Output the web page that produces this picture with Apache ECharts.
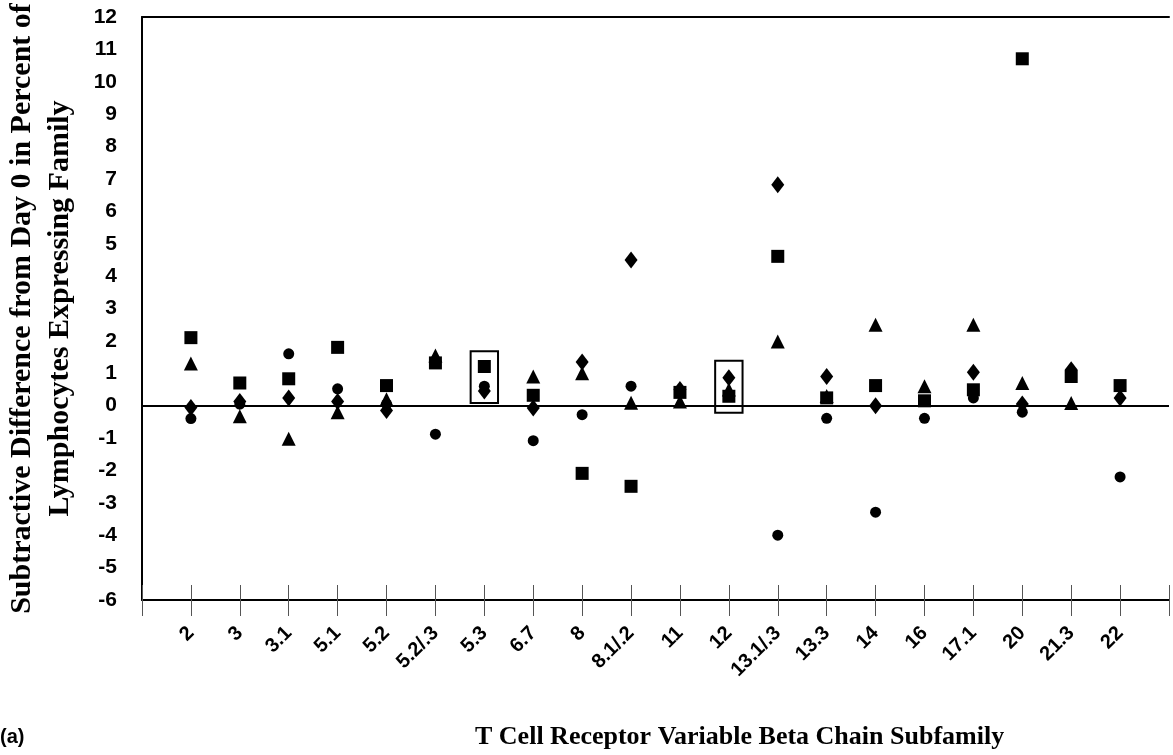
<!DOCTYPE html>
<html>
<head>
<meta charset="utf-8">
<script src="https://cdn.jsdelivr.net/npm/echarts@6/dist/echarts.min.js"></script>
<style>html,body{margin:0;padding:0;background:#fff}#c{width:1173px;height:755px}</style>
</head>
<body>
<div id="c"></div>
<script>
const categories = ['2','3','3.1','5.1','5.2','5.2/.3','5.3','6.7','8','8.1/.2','11','12','13.1/.3','13.3','14','16','17.1','20','21.3','22'];
const yTicks = [-6,-5,-4,-3,-2,-1,0,1,2,3,4,5,6,7,8,9,10,11,12];
const squareVals   = [2.1, 0.7, 0.83, 1.8, 0.62, 1.32, 1.21, 0.32, -2.09, -2.49, 0.41, 0.29, 4.61, 0.24, 0.62, 0.15, 0.49, 10.71, 0.9, 0.62];
const diamondVals  = [-0.06, 0.13, 0.24, 0.13, -0.15, null, 0.45, -0.07, 1.35, 4.5, 0.5, 0.86, 6.82, 0.9, 0.0, null, 1.03, 0.05, 1.11, 0.24];
const triangleVals = [1.3, -0.33, -1.02, -0.2, 0.2, 1.55, null, 0.9, 1.0, 0.09, 0.13, 0.5, 1.98, 0.3, 2.5, 0.6, 2.5, 0.7, 0.08, null];
const circleVals   = [-0.4, 0.05, 1.6, 0.52, 0.05, -0.88, 0.6, -1.08, -0.28, 0.6, null, null, -4.0, -0.39, -3.29, -0.39, 0.24, -0.2, null, -2.2];
// highlighted boxes: [category, yLow, yHigh]
const boxes = [['5.3', 0.08, 1.68], ['12', -0.22, 1.39]];

const pts = vals => vals.map((v, i) => [i + 1, v]).filter(p => p[1] !== null);
const sans = '"Liberation Sans", Arial, sans-serif';
const serif = '"Liberation Serif", "Times New Roman", serif';

const chart = echarts.init(document.getElementById('c'));
const boxW = 0.28;
const mk = {color: '#000', opacity: 1};
chart.setOption({
  animation: false,
  grid: {left: 142, right: 4, top: 17, bottom: 155, containLabel: false, outerBoundsMode: 'none'},
  xAxis: [
    {type: 'value', min: 0, max: categories.length + 1, interval: 1, position: 'bottom',
     axisLine: {onZero: false, lineStyle: {color: '#000', width: 2}},
     axisTick: {show: true, inside: false, length: 16, lineStyle: {color: '#555', width: 1}},
     axisLabel: {rotate: 45, margin: 30, color: '#000', fontFamily: sans, fontWeight: 'bold', fontSize: 20,
       formatter: v => (v >= 1 && v <= categories.length) ? categories[v - 1] : ''},
     splitLine: {show: false}},
    {type: 'value', min: 0, max: categories.length + 1, interval: 1, position: 'bottom', gridIndex: 0,
     axisLine: {onZero: false, show: false},
     axisTick: {show: true, inside: true, length: 15, lineStyle: {color: '#555', width: 1}},
     axisLabel: {show: false}, splitLine: {show: false}},
    {type: 'value', min: 0, max: categories.length + 1, position: 'top',
     axisLine: {onZero: false, lineStyle: {color: '#000', width: 2}},
     axisTick: {show: false}, axisLabel: {show: false}, splitLine: {show: false}}
  ],
  yAxis: {type: 'value', min: yTicks[0], max: yTicks[yTicks.length - 1], interval: 1,
    axisLine: {show: true, onZero: false, lineStyle: {color: '#000', width: 2}},
    axisTick: {show: false},
    axisLabel: {margin: 25, color: '#000', fontFamily: sans, fontWeight: 'bold', fontSize: 21},
    splitLine: {show: false},
    name: 'Subtractive Difference from Day 0 in Percent of\nLymphocytes Expressing Family',
    nameLocation: 'middle', nameGap: 63, nameRotate: 90,
    nameTextStyle: {fontFamily: serif, fontWeight: 'bold', fontSize: 30, lineHeight: 38, color: '#000'}
  },
  graphic: [
    {type: 'text', left: 475, top: 724, style: {text: 'T Cell Receptor Variable Beta Chain Subfamily', font: 'bold 26px ' + serif, fill: '#000'}},
    {type: 'text', left: 0, top: 727, style: {text: '(a)', font: 'bold 20px ' + sans, fill: '#000'}}
  ],
  series: [
    {type: 'scatter', name: 'circle', symbol: 'circle', symbolSize: 11, itemStyle: mk, data: pts(circleVals),
     markLine: {silent: true, symbol: ['none', 'none'], label: {show: false}, lineStyle: {color: '#000', width: 2, type: 'solid'}, data: [{yAxis: 0}]}},
    {type: 'scatter', name: 'triangle', symbol: 'triangle', symbolSize: 14, itemStyle: mk, data: pts(triangleVals)},
    {type: 'scatter', name: 'square', symbol: 'rect', symbolSize: 13, itemStyle: mk, data: pts(squareVals)},
    {type: 'scatter', name: 'diamond', symbol: 'diamond', symbolSize: [13, 17], itemStyle: mk, data: pts(diamondVals),
     markArea: {silent: true, itemStyle: {color: 'rgba(0,0,0,0)', borderColor: '#000', borderWidth: 2},
       data: boxes.map(b => { const x = categories.indexOf(b[0]) + 1; return [{xAxis: x - boxW, yAxis: b[1]}, {xAxis: x + boxW, yAxis: b[2]}]; })}}
  ]
});
</script>
</body>
</html>
